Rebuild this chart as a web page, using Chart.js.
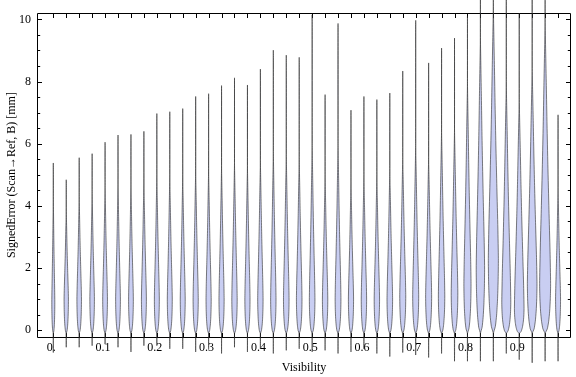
<!DOCTYPE html>
<html>
<head>
<meta charset="utf-8">
<script src="https://cdn.jsdelivr.net/npm/chart.js@4.4.1/dist/chart.umd.min.js"></script>
<style>
  html, body { margin: 0; padding: 0; background: #fff; }
</style>
</head>
<body>
<canvas id="grafico" width="576" height="377"></canvas>
<script>
// posição de cada violino no eixo x (Visibility)
const visibility = [
  0, 0.025, 0.05, 0.075, 0.1, 0.125, 0.15, 0.175, 0.2, 0.225,
  0.25, 0.275, 0.3, 0.325, 0.35, 0.375, 0.4, 0.425, 0.45, 0.475,
  0.5, 0.525, 0.55, 0.575, 0.6, 0.625, 0.65, 0.675, 0.7, 0.725,
  0.75, 0.775, 0.8, 0.825, 0.85, 0.875, 0.9, 0.925, 0.95, 0.975
];

// maior erro de cada violino (mm)
const errMax = [
  5.38, 4.84, 5.55, 5.68, 6.05, 6.28, 6.30, 6.40, 6.97, 7.03,
  7.13, 7.52, 7.61, 7.87, 8.12, 7.89, 8.40, 9.01, 8.85, 8.78,
  10.15, 7.58, 9.87, 7.08, 7.52, 7.42, 7.63, 8.34, 9.97, 8.60,
  9.08, 9.40, 10.1, 11.5, 11.5, 11.5, 10.2, 11.5, 11.5, 6.93
];

// menor erro de cada violino (mm)
const errMin = [
  -0.72, -0.55, -0.55, -0.50, -0.45, -0.55, -0.70, -0.50, -0.50, -0.60,
  -0.60, -0.70, -0.60, -0.75, -0.55, -0.70, -0.60, -0.75, -0.65, -0.60,
  -0.70, -0.65, -0.75, -0.70, -0.60, -0.75, -0.85, -0.72, -0.80, -0.88,
  -0.75, -1.00, -1.00, -1.00, -1.00, -0.75, -0.95, -1.05, -1.00, -1.00
];

// meia largura máxima da densidade (em unidades de visibility)
const bodyWidth = [
  0.0029, 0.0042, 0.0044, 0.0044, 0.0046, 0.0046, 0.0046, 0.0048, 0.0048, 0.0048,
  0.0048, 0.0050, 0.0050, 0.0050, 0.0052, 0.0050, 0.0052, 0.0052, 0.0054, 0.0054,
  0.0054, 0.0052, 0.0056, 0.0050, 0.0052, 0.0052, 0.0054, 0.0058, 0.0058, 0.0058,
  0.0062, 0.0064, 0.0069, 0.0081, 0.0097, 0.0087, 0.0093, 0.0093, 0.0106, 0.0048
];

// altura onde a densidade vira linha fina (mm)
const bodyTop = [
  4.3, 3.9, 4.3, 4.4, 4.6, 4.7, 4.7, 4.8, 5.0, 5.0,
  5.0, 5.2, 5.2, 5.3, 5.4, 5.3, 5.5, 5.8, 5.7, 5.6,
  6.0, 5.0, 6.0, 4.8, 5.0, 5.0, 5.2, 5.6, 6.0, 5.6,
  6.5, 6.5, 8.0, 9.5, 10.5, 8.0, 7.5, 8.5, 10.0, 4.6
];

// altura da parte mais larga (mm)
const peakAt = [
  0.9, 1.0, 1.0, 1.0, 1.0, 1.0, 1.0, 1.0, 1.0, 1.0,
  1.0, 1.0, 1.0, 1.0, 1.0, 1.0, 1.0, 1.0, 1.0, 1.0,
  1.0, 1.0, 1.0, 1.0, 1.0, 1.0, 1.0, 1.1, 1.1, 1.1,
  1.1, 1.2, 1.5, 2.0, 2.3, 0.9, 0.7, 1.5, 1.5, 1.0
];

// forma comum do violino (frações)
const neckY = -0.12;
const lowerFrac  = [0, 0.1, 0.25, 0.45, 0.7, 1];
const lowerWidth = [0, 0.4, 0.65, 0.83, 0.95, 1];
const upperFrac  = [0.12, 0.28, 0.45, 0.6, 0.75, 0.88, 1];
const upperWidth = [0.9, 0.7, 0.5, 0.35, 0.22, 0.1, 0];

const xTickValues = [0, 0.1, 0.2, 0.3, 0.4, 0.5, 0.6, 0.7, 0.8, 0.9];
const xTickLabels = ['0.', '0.1', '0.2', '0.3', '0.4', '0.5', '0.6', '0.7', '0.8', '0.9'];
const yTickValues = [0, 2, 4, 6, 8, 10];

const fonte = { family: "'Liberation Serif', 'Times New Roman', serif", size: 12 };

function contornoViolino(i) {
  const c = visibility[i];
  const w = bodyWidth[i];
  const pk = peakAt[i];
  const topo = bodyTop[i];
  const perfil = [];
  lowerFrac.forEach((f, k) => perfil.push({ y: neckY + (pk - neckY) * f, w: lowerWidth[k] * w }));
  upperFrac.forEach((f, k) => perfil.push({ y: pk + (topo - pk) * f, w: upperWidth[k] * w }));

  const pts = [{ x: c, y: errMin[i] }];
  perfil.forEach(p => pts.push({ x: c + p.w, y: p.y }));
  pts.push({ x: c, y: errMax[i] });
  perfil.slice().reverse().forEach(p => pts.push({ x: c - p.w, y: p.y }));
  pts.push({ x: c, y: errMin[i] });
  return pts;
}

const datasets = visibility.map((v, i) => ({
  data: contornoViolino(i),
  showLine: true,
  fill: 'shape',
  backgroundColor: '#c9cef2',
  borderColor: 'rgba(40,40,40,0.6)',
  borderWidth: 1,
  pointRadius: 0,
  tension: 0.2,
  clip: false
}));

// moldura com marcas para dentro, como no Mathematica
const moldura = {
  id: 'moldura',
  beforeDatasetsDraw(chart) {
    const { ctx, chartArea: a, scales: { x, y } } = chart;
    const L = Math.round(a.left) + 0.5, R = Math.round(a.right) - 0.5;
    const T = Math.round(a.top) + 0.5, B = Math.round(a.bottom) + 0.5;
    ctx.save();
    ctx.strokeStyle = '#000';
    ctx.lineWidth = 1;
    ctx.beginPath();
    ctx.rect(L, T, R - L, B - T);
    visibility.forEach(v => {
      const px = Math.round(x.getPixelForValue(v)) + 0.5;
      ctx.moveTo(px, T); ctx.lineTo(px, T + 4.5);
      ctx.moveTo(px, B); ctx.lineTo(px, B - 4.5);
    });
    for (let k = 0; k <= 20; k++) {
      const val = k * 0.5;
      const py = Math.round(y.getPixelForValue(val)) + 0.5;
      const len = k % 4 === 0 ? 4.5 : 2.7;
      ctx.moveTo(L, py); ctx.lineTo(L + len, py);
      ctx.moveTo(R, py); ctx.lineTo(R - len, py);
    }
    ctx.stroke();
    ctx.restore();
  }
};

new Chart(document.getElementById('grafico'), {
  type: 'scatter',
  data: { datasets },
  plugins: [moldura],
  options: {
    responsive: false,
    animation: false,
    devicePixelRatio: 1,
    layout: { padding: { top: 5, right: 5, left: 0, bottom: 0 } },
    plugins: { legend: { display: false }, tooltip: { enabled: false } },
    scales: {
      x: {
        type: 'linear',
        min: -0.0315,
        max: 1.0,
        afterBuildTicks: s => { s.ticks = xTickValues.map(v => ({ value: v })); },
        afterFit: s => { s.height = 40; },
        grid: { display: false, drawTicks: false },
        border: { display: false },
        ticks: {
          color: '#000',
          font: fonte,
          padding: 4,
          maxRotation: 0,
          autoSkip: false,
          labelOffset: -2,
          callback: v => xTickLabels[xTickValues.indexOf(v)]
        },
        title: { display: true, text: 'Visibility', color: '#000', font: fonte, padding: { top: 0, bottom: 2 } }
      },
      y: {
        type: 'linear',
        min: -0.22,
        max: 10.2,
        afterBuildTicks: s => { s.ticks = yTickValues.map(v => ({ value: v })); },
        afterFit: s => { s.width = 37; },
        grid: { display: false, drawTicks: false },
        border: { display: false },
        ticks: { color: '#000', font: fonte, padding: 6, callback: v => String(v) },
        title: {
          display: true,
          text: 'SignedError (Scan\u2192Ref, B) [mm]',
          color: '#000',
          font: fonte,
          padding: { top: 5, bottom: 0 }
        }
      }
    }
  }
});
</script>
</body>
</html>
